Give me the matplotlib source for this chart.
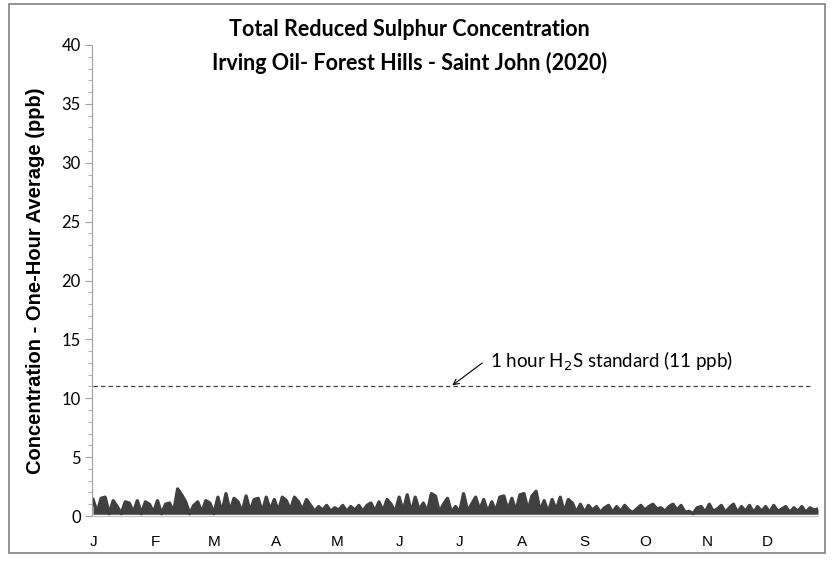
import matplotlib
matplotlib.use("Agg")
import matplotlib.pyplot as plt
from matplotlib.patches import Rectangle
import numpy as np

# ---- data ----
months = ["J", "F", "M", "A", "M", "J", "J", "A", "S", "O", "N", "D"]
month_start_days = [0, 31, 60, 91, 121, 152, 182, 213, 244, 274, 305, 335]

# concentration (ppb) sampled every 2 days from Jan 1
jan = [1.4, 0.3, 1.5, 1.6, 0.2, 1.3, 0.8, 0.2, 1.2, 1.1, 0.3, 1.3, 0.2, 1.2, 1.0, 0.3]
feb = [1.3, 0.2, 1.0, 1.1, 0.3, 2.3, 1.8, 1.2, 0.2, 0.9, 1.2, 0.3, 1.3, 1.1, 0.2]
mar = [1.6, 0.3, 1.9, 0.4, 1.5, 1.2, 0.3, 1.7, 0.4, 1.4, 1.5, 0.3, 1.6, 0.5, 1.4]
apr = [0.4, 1.6, 1.3, 0.5, 1.6, 1.2, 0.5, 1.4, 0.9, 0.4, 0.8, 0.5, 0.9, 0.4, 0.7]
may = [0.5, 0.9, 0.4, 0.8, 0.5, 0.9, 0.4, 0.9, 1.1, 0.4, 1.2, 0.4, 1.4, 1.0, 0.3]
jun = [1.6, 0.4, 1.8, 0.3, 1.6, 0.5, 1.1, 0.3, 1.9, 1.7, 0.3, 1.0, 1.5, 0.3, 0.8]
jul = [0.3, 1.9, 0.4, 1.0, 1.6, 0.5, 1.4, 0.3, 1.2, 0.4, 1.6, 1.7, 0.5, 1.5, 0.4]
aug = [1.8, 1.9, 0.5, 1.7, 2.1, 0.4, 1.3, 0.3, 1.4, 0.5, 1.6, 0.3, 1.4, 1.1, 0.3]
sep = [1.0, 0.3, 0.9, 0.5, 0.8, 0.3, 0.7, 0.9, 0.3, 0.8, 0.4, 0.9, 0.5, 0.3, 0.6]
octo = [0.9, 0.5, 0.8, 1.0, 0.6, 0.7, 0.4, 0.8, 1.0, 0.5, 0.9, 0.3, 0.4, 0.2, 0.7]
nov = [0.8, 0.3, 1.0, 0.4, 0.6, 0.9, 0.3, 0.7, 1.0, 0.3, 0.8, 0.4, 0.9, 0.3, 0.8]
dec = [0.4, 0.8, 0.3, 0.9, 0.4, 0.6, 0.8, 0.3, 0.7, 0.4, 0.8, 0.3, 0.7, 0.5, 0.6]

floor_value = 0.15  # typical background level (ppb)

standard_value = 11
standard_label = "1 hour H$_2$S standard (11 ppb)"
title_lines = ["Total Reduced Sulphur Concentration",
               "Irving Oil- Forest Hills - Saint John (2020)"]
y_label = "Concentration - One-Hour Average (ppb)"

vals = np.array(jan + feb + mar + apr + may + jun + jul + aug + sep + octo + nov + dec)
days = np.arange(len(vals)) * 2.0

fig = plt.figure(figsize=(8.33, 5.66), dpi=100)
ax = fig.add_axes([0.1105, 0.0883, 0.8715, 0.8322])

ax.fill_between(days, floor_value, vals, color="#404040", lw=0)
ax.plot(days, vals, color="#404040", lw=2.4, solid_joinstyle="round")
ax.plot([0, 357], [standard_value, standard_value], color="#404040",
        lw=0.9, ls=(0, (3.5, 2.5)))

ax.annotate("", xy=(178.4, 11.1), xytext=(193.3, 13.0),
            arrowprops=dict(arrowstyle="->", color="black", lw=0.8,
                            shrinkA=0, shrinkB=0))
ax.text(197.3, 13.1, standard_label, fontsize=13.5, family="Lato",
        va="center", ha="left", color="black")

ax.set_xlim(-0.5, 360)
ax.set_ylim(0, 40)
ax.set_yticks(np.arange(0, 41, 5))
ax.set_yticks(np.arange(0, 41, 1), minor=True)
ax.set_xticks(month_start_days)
ax.set_xticklabels(months, family="Liberation Sans", fontsize=11)
ax.tick_params(axis="x", length=0, pad=14)
ax.tick_params(axis="y", which="major", length=5, color="#a0a0a0",
               labelsize=12, pad=3)
ax.tick_params(axis="y", which="minor", length=3, color="#a0a0a0")
for lab in ax.get_yticklabels():
    lab.set_family("Lato")

for s in ["top", "right"]:
    ax.spines[s].set_visible(False)
ax.spines["left"].set_color("#a0a0a0")
ax.spines["bottom"].set_color("#c0c0c0")

ax.set_ylabel(y_label, family="Liberation Sans", fontweight="bold",
              fontsize=14.5, labelpad=12)

fig.text(0.492, 0.947, title_lines[0], ha="center", va="center",
         family="Lato", fontweight="bold", fontsize=15.5)
fig.text(0.492, 0.888, title_lines[1], ha="center", va="center",
         family="Lato", fontweight="bold", fontsize=15.5)

fig.patches.append(Rectangle((9 / 833, 1 - 553 / 566), (825 - 9) / 833,
                             (553 - 4) / 566, transform=fig.transFigure,
                             fill=False, edgecolor="#808080", lw=1.2))

fig.savefig("out.png", dpi=100)
